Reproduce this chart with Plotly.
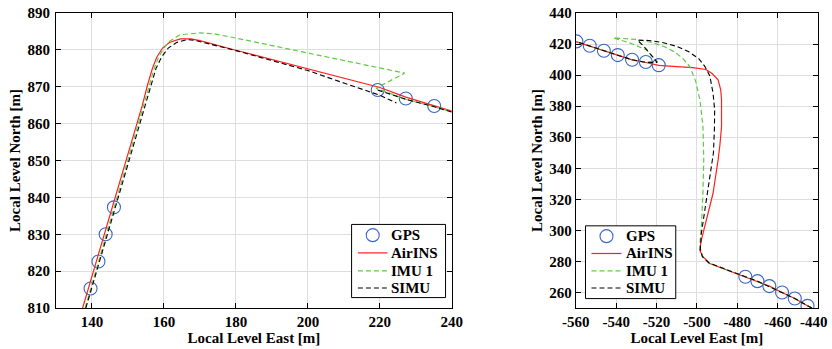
import plotly.graph_objects as go

# ---------------- Left panel data ----------------
gps_left_e = [139.6, 141.8, 143.8, 146.1, 219.4, 227.2, 235.1]
gps_left_n = [815.3, 822.6, 830.0, 837.3, 869.1, 866.8, 864.8]

airins_left_e = [137.4, 143.5, 149.5, 154.0, 155.3, 156.8, 158.0, 159.6, 161.5, 164.5, 167.5, 170.0,
                 180.0, 190.0, 200.0, 210.0, 220.0, 227.2, 235.1, 240.0]
airins_left_n = [810.0, 830.0, 850.0, 865.0, 870.0, 875.0, 878.0, 880.5, 882.0, 883.0, 883.0, 882.5,
                 879.9, 877.4, 874.8, 872.4, 869.8, 867.2, 864.9, 863.4]

imu1_left_e = [138.1, 144.0, 150.0, 154.5, 155.8, 157.3, 158.5, 160.0, 161.5, 164.4, 170.0, 173.7,
               180.0, 190.0, 200.0, 210.0, 220.0, 226.9, 218.9, 227.2, 235.1, 240.0]
imu1_left_n = [810.0, 830.0, 850.0, 865.0, 870.0, 875.0, 878.0, 880.5, 882.3, 884.1, 884.6, 884.4,
               883.2, 881.2, 879.1, 877.1, 875.0, 873.7, 869.6, 866.6, 864.6, 863.2]

simu_left_e = [138.3, 144.2, 150.3, 154.8, 156.2, 157.8, 159.3, 161.2, 163.5, 166.5, 169.0, 180.0,
               190.0, 200.0, 210.0, 220.0, 224.6, None, 219.4, 227.2, 235.1, 240.0]
simu_left_n = [810.0, 830.0, 850.0, 865.0, 870.0, 875.0, 878.0, 880.5, 882.0, 882.8, 882.5, 879.8,
               877.1, 874.4, 871.0, 867.7, 865.6, None, 869.1, 866.6, 864.6, 863.1]

# ---------------- Right panel data ----------------
gps_right_e = [-559.7, -553.1, -546.1, -539.2, -532.1, -525.3, -518.9,
               -476.0, -470.0, -464.1, -457.8, -451.5, -445.2]
gps_right_n = [421.7, 418.9, 415.7, 412.9, 409.9, 408.4, 406.4,
               270.1, 267.3, 264.1, 260.0, 256.1, 251.4]

airins_right_e = [-560.0, -553.1, -546.1, -539.2, -532.1, -525.3, -518.9, -510.0, -502.0, -495.5,
                  -492.5, -489.5, -488.2, -487.8, -487.8, -488.6, -489.5, -492.0, -495.3, -497.8,
                  -498.6, -497.0, -493.6, -487.0, -476.0, -470.0, -464.1, -457.8, -451.5, -445.2, -443.0]
airins_right_n = [421.6, 418.7, 415.5, 412.6, 409.8, 408.1, 406.3, 405.4, 404.8, 403.6,
                  401.0, 397.0, 390.5, 384.0, 366.8, 355.0, 345.4, 323.9, 306.6, 293.7,
                  287.3, 283.0, 278.7, 275.5, 270.1, 267.3, 264.1, 260.0, 256.1, 251.4, 250.0]

imu1_right_e = [-443.0, -445.2, -451.5, -457.8, -464.1, -470.0, -476.0, -487.0, -494.0, -497.2,
                -498.6, -497.8, -497.0, -496.6, -497.0, -498.5, -500.6, -503.5, -507.0, -511.0,
                -516.0, -522.0, -530.0, -541.5, -533.0, -525.0, -521.7, -519.5, -525.3, -532.1,
                -539.2, -546.1, -553.1, -560.0]
imu1_right_n = [250.0, 251.4, 256.1, 260.0, 264.1, 267.3, 270.1, 275.5, 279.0, 283.0,
                289.5, 302.4, 323.9, 345.4, 366.8, 384.0, 396.0, 405.5, 410.8, 414.8,
                418.3, 420.9, 423.0, 424.0, 420.6, 416.3, 412.0, 408.5, 408.2, 409.9,
                412.8, 415.6, 418.8, 421.7]

simu_right_e = [-443.0, -445.2, -451.5, -457.8, -464.1, -470.0, -476.0, -487.0, -494.0, -497.3,
                -498.3, -497.8, -496.1, -493.6, -491.8, -491.3, -491.2, -492.0, -493.6, -496.0,
                -499.0, -504.0, -510.0, -517.0, -524.0, -529.5, -527.0, -524.0, -521.5, -519.7,
                -525.3, -532.1, -539.2, -546.1, -553.1, -560.0]
simu_right_n = [250.0, 251.4, 256.1, 260.0, 264.1, 267.3, 270.1, 275.5, 279.0, 283.0,
                288.0, 298.0, 313.1, 334.6, 350.0, 366.0, 377.6, 388.4, 399.5, 405.5,
                410.5, 415.0, 418.5, 421.0, 422.3, 422.5, 419.5, 415.0, 411.0, 408.2,
                408.2, 409.9, 412.8, 415.6, 418.8, 421.7]

series_names = ["GPS", "AirINS", "IMU 1", "SIMU"]
left_xticks = [140, 160, 180, 200, 220, 240]
left_yticks = [810, 820, 830, 840, 850, 860, 870, 880, 890]
right_xticks = [-560, -540, -520, -500, -480, -460, -440]
right_xtick_labels = ["-560", "-540", "-520", "-500", "-480", "-460", "-440"]
right_yticks = [260, 280, 300, 320, 340, 360, 380, 400, 420, 440]

# ---------------- Styling ----------------
FONT = "Liberation Serif"
GPS_COLOR = "#3a64c8"
RED = "#ff2020"
GREEN = "#5ccc44"
BLACK = "#000000"
DASH = "5px,3px"
STYLES = [
    None,
    dict(color=RED, width=1.2),
    dict(color=GREEN, width=1.2, dash=DASH),
    dict(color=BLACK, width=1.1, dash=DASH),
]
TXT_FONT = dict(family=FONT, size=15, color="#000000", weight="bold")

fig = go.Figure()

def add_panel(xa, ya, ge, gn, ae, an, ie, inn, se, sn):
    fig.add_trace(go.Scatter(x=ge, y=gn, mode="markers", name=series_names[0],
                             marker=dict(symbol="circle-open", size=13, color=GPS_COLOR,
                                         line=dict(width=1.1, color=GPS_COLOR)),
                             xaxis=xa, yaxis=ya, showlegend=False))
    for name, st, xs, ys in [(series_names[1], STYLES[1], ae, an),
                             (series_names[2], STYLES[2], ie, inn),
                             (series_names[3], STYLES[3], se, sn)]:
        fig.add_trace(go.Scatter(x=xs, y=ys, mode="lines", name=name, line=st,
                                 connectgaps=False, xaxis=xa, yaxis=ya, showlegend=False))

add_panel("x", "y", gps_left_e, gps_left_n, airins_left_e, airins_left_n,
          imu1_left_e, imu1_left_n, simu_left_e, simu_left_n)
add_panel("x2", "y2", gps_right_e, gps_right_n, airins_right_e, airins_right_n,
          imu1_right_e, imu1_right_n, simu_right_e, simu_right_n)

W, H = 832, 349
ML, MR, MT, MB = 56, 13.7, 13.3, 41.3
PW = W - ML - MR
PH = H - MT - MB

def px2x(px):
    return (px - ML) / PW

def py2y(py):
    return (H - MB - py) / PH

def axis_common(rng, tickvals, title, domain, anchor, standoff_lbl=0, ticktext=None):
    ax = dict(range=rng, tickmode="array", tickvals=tickvals, domain=domain, anchor=anchor,
              showgrid=True, gridcolor="#dedede", gridwidth=1,
              zeroline=False, showline=True, linecolor="#000000", linewidth=1,
              mirror="ticks", ticks="inside", ticklen=5, tickcolor="#000000",
              ticklabelstandoff=standoff_lbl, ticklabeloverflow="allow",
              tickfont=TXT_FONT,
              title=dict(text=title, font=TXT_FONT, standoff=3),
              automargin=False)
    if ticktext is not None:
        ax["ticktext"] = ticktext
    return ax

left_dom = [0, (452 - ML) / PW]
right_dom = [(576 - ML) / PW, 1]

# ---------------- Hand-built legends (box, symbols, labels) ----------------
shapes = []
annotations = []

def legend_box(x0, y0, x1, y1, sym0, sym1, txt_x, rows_y):
    shapes.append(dict(type="rect", xref="paper", yref="paper",
                       x0=px2x(x0), x1=px2x(x1), y0=py2y(y1), y1=py2y(y0),
                       line=dict(color="#000000", width=1), fillcolor="#ffffff", layer="above"))
    for i, name in enumerate(series_names):
        ry = py2y(rows_y[i])
        if i == 0:
            cx = px2x((sym0 + sym1) / 2)
            shapes.append(dict(type="circle", xref="paper", yref="paper",
                               xsizemode="pixel", ysizemode="pixel",
                               xanchor=cx, yanchor=ry, x0=-6.5, x1=6.5, y0=-6.5, y1=6.5,
                               line=dict(color=GPS_COLOR, width=1.1), layer="above"))
        else:
            shapes.append(dict(type="line", xref="paper", yref="paper",
                               x0=px2x(sym0), x1=px2x(sym1), y0=ry, y1=ry,
                               line=STYLES[i], layer="above"))
        annotations.append(dict(text=name, xref="paper", yref="paper", x=px2x(txt_x), y=ry,
                                xanchor="left", yanchor="middle", showarrow=False,
                                font=TXT_FONT))

legend_box(351.7, 224.3, 445.7, 297.3, 358, 387.7, 389.5, [235, 252.7, 270.7, 287.7])
legend_box(585.7, 225.7, 676.0, 298.3, 591.7, 621.7, 624.5, [236, 253.3, 270.7, 287.7])

# The last right-hand tick label sits at the page edge: in the reference it is nudged
# inward, so it is drawn as a text label anchored on the axis value, shifted a few px.
shown_labels = right_xtick_labels[:-1] + [""]
annotations.append(dict(text=right_xtick_labels[-1], xref="x2", yref="paper",
                        x=right_xticks[-1], y=py2y(321.7), xshift=-3.5,
                        xanchor="center", yanchor="middle", showarrow=False, font=TXT_FONT))

fig.update_layout(
    width=W, height=H, template="none",
    paper_bgcolor="#ffffff", plot_bgcolor="#ffffff",
    margin=dict(l=ML, r=MR, t=MT, b=MB, pad=0),
    font=TXT_FONT,
    xaxis=axis_common([130, 240.0001], left_xticks, "Local Level East [m]", left_dom, "y"),
    yaxis=axis_common([809.9999, 890.0001], left_yticks, "Local Level North [m]", [0, 1], "x", 2),
    xaxis2=axis_common([-560.0001, -439.9999], right_xticks, "Local Level East [m]", right_dom, "y2",
                       ticktext=shown_labels),
    yaxis2=axis_common([250, 440.0001], right_yticks, "Local Level North [m]", [0, 1], "x2"),
    shapes=shapes,
    annotations=annotations,
    showlegend=False,
)

fig.write_html("out.html", config={"displayModeBar": False},
               post_script="document.body.style.margin='0px';")
